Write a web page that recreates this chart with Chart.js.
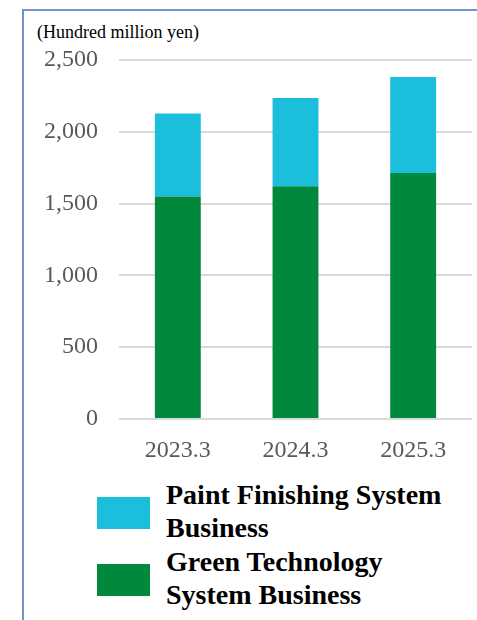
<!DOCTYPE html>
<html>
<head>
<meta charset="utf-8">
<script src="https://cdn.jsdelivr.net/npm/chart.js@4"></script>
<style>
  html, body { margin: 0; padding: 0; background: #fff; }
  body { width: 477px; height: 620px; position: relative; overflow: hidden; font-family: "Liberation Serif", serif; }
  #frame { position: absolute; left: 22px; top: 9px; width: 460px; height: 620px; border-left: 2px solid #6d95cc; border-top: 2px solid #6d95cc; }
  #unit { position: absolute; left: 37px; top: 23px; font-size: 18px; line-height: 18px; color: #000; white-space: nowrap; }
  #wrap { position: absolute; left: 0; top: 0; width: 477px; height: 470px; }
  #legend { position: absolute; left: 97px; top: 478px; }
  .item { position: relative; height: 67px; }
  .box { position: absolute; left: 0; width: 53px; height: 32px; top: 19px; }
  .lbl { position: absolute; left: 69px; top: 0; font-weight: bold; font-size: 28px; line-height: 33px; color: #000; white-space: nowrap; }
</style>
</head>
<body>
<div id="frame"></div>
<div id="unit">(Hundred million yen)</div>
<div id="wrap"><canvas id="c"></canvas></div>
<div id="legend"></div>
<script>
const years = ['2023.3', '2024.3', '2025.3'];
const greenTech = [1549, 1620, 1713];
const paintFinishing = [578, 616, 669];
const seriesNames = [['Green Technology', 'System Business'], ['Paint Finishing System', 'Business']];
const seriesColors = ['#00893d', '#1bbedb'];

const ctx = document.getElementById('c').getContext('2d');
const chart = new Chart(ctx, {
    type: 'bar',
    data: {
        labels: years,
        datasets: [
            { label: seriesNames[0].join(' '), data: greenTech, backgroundColor: seriesColors[0] },
            { label: seriesNames[1].join(' '), data: paintFinishing, backgroundColor: seriesColors[1] }
        ]
    },
    options: {
        responsive: true,
        maintainAspectRatio: false,
        animation: false,
        layout: { padding: { left: 0, top: 60, right: 5, bottom: 0 } },
        datasets: { bar: { categoryPercentage: 1, barPercentage: 0.39 } },
        plugins: { legend: { display: false }, tooltip: { enabled: false } },
        scales: {
            x: {
                stacked: true,
                grid: { display: false },
                border: { display: false },
                ticks: { color: '#595959', font: { family: 'Liberation Serif', size: 24 }, padding: 9 },
                afterFit: s => { s.height = 51; }
            },
            y: {
                stacked: true,
                min: 0, max: 2500,
                ticks: {
                    stepSize: 500,
                    color: '#595959',
                    font: { family: 'Liberation Serif', size: 24 },
                    padding: 21,
                    callback: v => v.toLocaleString('en-US')
                },
                grid: { color: '#d9d9d9', lineWidth: 2, drawTicks: false },
                border: { display: false },
                afterFit: s => { s.width = 119; }
            }
        }
    }
});

// legend, top series first
const legend = document.getElementById('legend');
[1, 0].forEach(i => {
    const item = document.createElement('div');
    item.className = 'item';
    const box = document.createElement('div');
    box.className = 'box';
    box.style.background = seriesColors[i];
    const lbl = document.createElement('div');
    lbl.className = 'lbl';
    lbl.innerHTML = seriesNames[i].join('<br>');
    item.appendChild(box);
    item.appendChild(lbl);
    legend.appendChild(item);
});
</script>
</body>
</html>
